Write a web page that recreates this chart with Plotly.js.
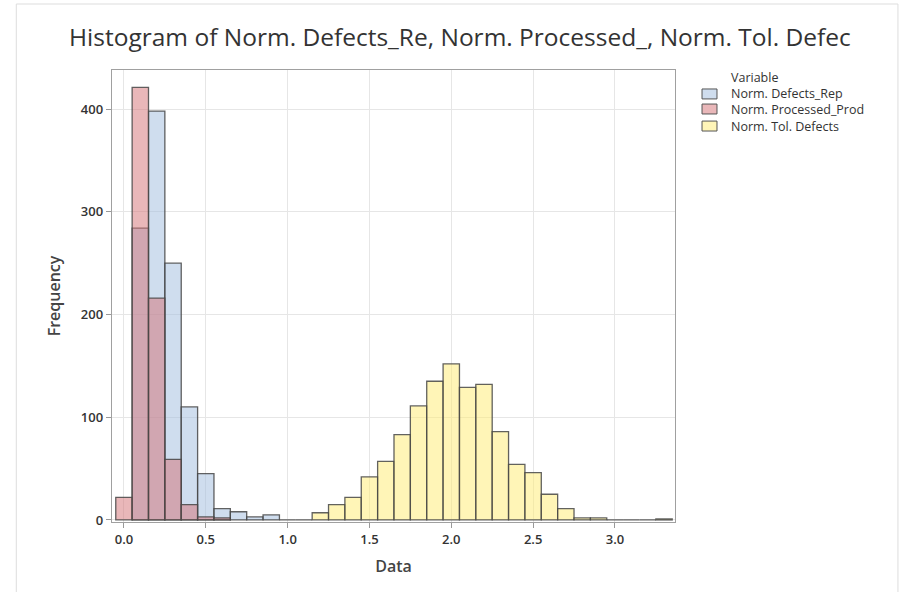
<!DOCTYPE html>
<html>
<head>
<meta charset="utf-8">
<script src="https://cdn.plot.ly/plotly-3.0.1.min.js"></script>
<style>html,body{margin:0;padding:0;background:#fff;}</style>
</head>
<body>
<div id="chart" style="width:903px;height:592px;"></div>
<script>
// Bin midpoints (bin width 0.1) and counts per variable
const defectsRepX = [0.1, 0.2, 0.3, 0.4, 0.5, 0.6, 0.7, 0.8, 0.9, 1.0, 1.1];
const defectsRepY = [284, 398, 250, 110, 45, 11, 8, 3, 5, 0, 0];

const processedX = [0.0, 0.1, 0.2, 0.3, 0.4, 0.5, 0.6];
const processedY = [22, 421, 216, 59, 15, 3, 2];

const tolDefectsX = [1.2, 1.3, 1.4, 1.5, 1.6, 1.7, 1.8, 1.9, 2.0, 2.1, 2.2, 2.3, 2.4, 2.5, 2.6, 2.7, 2.8, 2.9, 3.0, 3.1, 3.2, 3.3];
const tolDefectsY = [7, 15, 22, 42, 57, 83, 111, 135, 152, 129, 132, 86, 54, 46, 25, 11, 2, 2, 0, 0, 0, 1];

const seriesNames = ["Norm. Defects_Rep", "Norm. Processed_Prod", "Norm. Tol. Defects"];
const legendTitle = "Variable";
const xTicks = [0.0, 0.5, 1.0, 1.5, 2.0, 2.5, 3.0];
const xTickText = ["0.0", "0.5", "1.0", "1.5", "2.0", "2.5", "3.0"];
const yTicks = [0, 100, 200, 300, 400];

const font = "'Open Sans', 'Noto Sans', sans-serif";
const outlineColor = "rgba(70,70,70,0.85)";
const fills = ["rgba(160,188,222,0.5)", "rgba(212,112,116,0.5)", "rgba(255,236,112,0.5)"];
const swatchFills = ["#cfddee", "#e9b7b9", "#fff5b8"];

function barTrace(x, y, name, fill) {
  return {
    type: "bar", x: x, y: y, name: name, width: 0.1,
    marker: {color: fill, line: {color: outlineColor, width: 1.3}},
    hoverinfo: "x+y+name", showlegend: false
  };
}

const data = [
  barTrace(defectsRepX, defectsRepY, seriesNames[0], fills[0]),
  barTrace(processedX, processedY, seriesNames[1], fills[1]),
  barTrace(tolDefectsX, tolDefectsY, seriesNames[2], fills[2])
];

// Legend (drawn as annotations + swatches, in paper coordinates)
const legTextX = 1.096;
const legSwX0 = 1.048, legSwX1 = 1.0746;
const legRowY = [0.947, 0.9137, 0.876];
const legSwHalf = 0.011;

const annotations = [{
  xref: "paper", yref: "paper", x: legTextX, y: 0.9845, xanchor: "left", yanchor: "middle",
  text: legendTitle, showarrow: false, font: {family: font, size: 12.5, color: "#333333"}
}];
const shapes = [{
  type: "rect", xref: "paper", yref: "paper",
  x0: -0.17, x1: 1.396, y0: -0.2, y1: 1.146,
  line: {color: "#dddddd", width: 1}, fillcolor: "rgba(0,0,0,0)", layer: "below"
}];
seriesNames.forEach(function (n, i) {
  annotations.push({
    xref: "paper", yref: "paper", x: legTextX, y: legRowY[i], xanchor: "left", yanchor: "middle",
    text: n, showarrow: false, font: {family: font, size: 12.5, color: "#333333"}
  });
  shapes.push({
    type: "rect", xref: "paper", yref: "paper",
    x0: legSwX0, x1: legSwX1, y0: legRowY[i] - legSwHalf, y1: legRowY[i] + legSwHalf,
    line: {color: "#555555", width: 1}, fillcolor: swatchFills[i]
  });
});

const layout = {
  width: 903, height: 592,
  margin: {l: 112, r: 228, t: 70, b: 70},
  paper_bgcolor: "#ffffff", plot_bgcolor: "#ffffff",
  barmode: "overlay", bargap: 0,
  font: {family: font, color: "#333333", size: 12},
  title: {
    text: "Histogram of Norm. Defects_Re, Norm. Processed_, Norm. Tol. Defec",
    x: 0.618, xref: "paper", xanchor: "center", y: 0.937, yanchor: "middle",
    font: {family: font, size: 24.5, color: "#333333"}
  },
  xaxis: {
    range: [-0.073, 3.367],
    tickvals: xTicks, ticktext: xTickText,
    ticks: "outside", ticklen: 5, tickcolor: "#999999",
    showgrid: true, gridcolor: "#e6e6e6", gridwidth: 1,
    zeroline: false, showline: true, linecolor: "#a0a0a0", linewidth: 1.3, mirror: true,
    tickfont: {family: font, size: 13, color: "#333333", weight: 600},
    title: {text: "Data", font: {family: font, size: 16, color: "#444444", weight: 600}, standoff: 14}
  },
  yaxis: {
    range: [-2, 438],
    tickvals: yTicks,
    ticks: "outside", ticklen: 5, tickcolor: "#999999",
    showgrid: true, gridcolor: "#e6e6e6", gridwidth: 1,
    zeroline: false, showline: true, linecolor: "#a0a0a0", linewidth: 1.3, mirror: true,
    tickfont: {family: font, size: 13, color: "#333333", weight: 600},
    title: {text: "Frequency", font: {family: font, size: 16, color: "#444444", weight: 600}, standoff: 16}
  },
  annotations: annotations,
  shapes: shapes,
  showlegend: false
};

Plotly.newPlot("chart", data, layout, {displayModeBar: false, staticPlot: true});
</script>
</body>
</html>
